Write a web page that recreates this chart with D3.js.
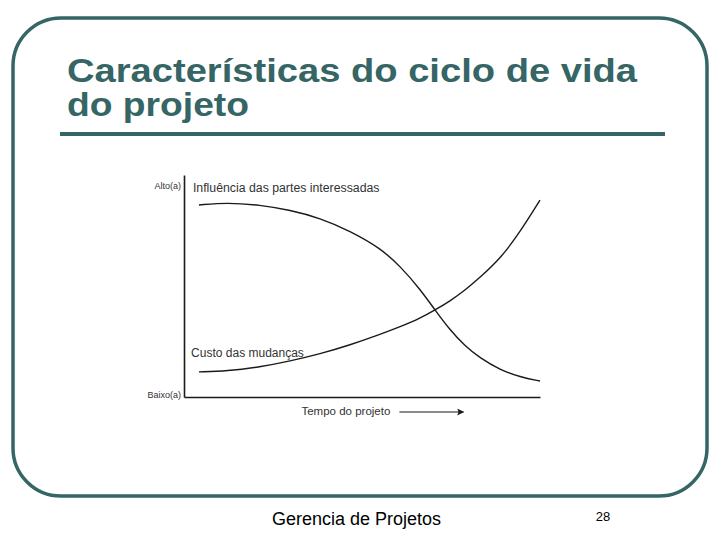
<!DOCTYPE html>
<html>
<head>
<meta charset="utf-8">
<script src="https://cdn.jsdelivr.net/npm/d3@7"></script>
<style>
    html, body { margin: 0; padding: 0; background: #fff; }
    svg { display: block; }
</style>
</head>
<body>
<div id="slide"></div>
<script>
// slide texts
const titleLines = ["Características do ciclo de vida", "do projeto"];
const footerText = "Gerencia de Projetos";
const pageNumber = "28";

// chart texts
const yTickLabels = ["Baixo(a)", "Alto(a)"];
const xAxisLabel = "Tempo do projeto";
const influenceLabel = "Influência das partes interessadas";
const costLabel = "Custo das mudanças";

// curves (tempo 0..100, nível 0..100)
const tempo      = [4.2, 12.1, 21.3, 29.8, 38.2, 46.6, 55.1, 60.7, 66.3, 70.5, 74.7, 78.9, 83.1, 88.8, 94.4, 100];
const influencia = [86.5, 87.6, 86.5, 84.2, 80.6, 74.8, 67.1, 59.0, 48.6, 39.2, 30.2, 23.0, 17.6, 12.2, 9.0, 7.2];
const custo      = [11.3, 11.7, 13.5, 16.2, 19.4, 23.4, 28.2, 31.6, 35.4, 39.2, 43.2, 48.0, 53.8, 62.2, 74.3, 88.7];

const width = 720;
const height = 540;
const teal = "#356565";
const ink = "#1a1a1a";
const labelFont = "'Liberation Sans', Arial, sans-serif";

const svg = d3.select("#slide")
    .append("svg")
    .attr("width", width)
    .attr("height", height)
    .attr("viewBox", `0 0 ${width} ${height}`);

// slide frame
svg.append("rect")
    .attr("x", 13)
    .attr("y", 18)
    .attr("width", 694)
    .attr("height", 478)
    .attr("rx", 48)
    .attr("fill", "none")
    .attr("stroke", teal)
    .attr("stroke-width", 3.5);

// title
svg.selectAll(".title")
    .data(titleLines)
    .enter()
    .append("text")
    .attr("class", "title")
    .attr("x", 67)
    .attr("y", (d, i) => 82 + i * 34)
    .attr("font-family", labelFont)
    .attr("font-weight", "bold")
    .attr("font-size", "33px")
    .attr("fill", teal)
    .attr("textLength", (d, i) => i === 0 ? 570 : 182)
    .attr("lengthAdjust", "spacingAndGlyphs")
    .text(d => d);

svg.append("line")
    .attr("x1", 60)
    .attr("x2", 665)
    .attr("y1", 134)
    .attr("y2", 134)
    .attr("stroke", teal)
    .attr("stroke-width", 4);

// chart
const x = d3.scaleLinear().domain([0, 100]).range([184, 540]);
const y = d3.scaleLinear().domain([0, 100]).range([397, 175]);

const chart = svg.append("g").attr("class", "chart");

const yAxis = chart.append("g")
    .attr("transform", `translate(${x(0)},0)`)
    .call(d3.axisLeft(y).tickValues([1, 95]).tickSize(0).tickSizeOuter(0).tickPadding(3)
        .tickFormat((d, i) => yTickLabels[i]));

const xAxis = chart.append("g")
    .attr("transform", `translate(0,${y(0)})`)
    .call(d3.axisBottom(x).tickValues([]).tickSizeOuter(0));

[yAxis, xAxis].forEach(a => {
    a.select(".domain").attr("stroke", ink).attr("stroke-width", 1.6);
    a.selectAll("text")
        .attr("font-family", labelFont)
        .attr("font-size", "9px")
        .attr("fill", "#333");
});

const line = d3.line()
    .x(d => x(d[0]))
    .y(d => y(d[1]))
    .curve(d3.curveBasis);

const series = [
    d3.zip(tempo, influencia),
    d3.zip(tempo, custo)
];

chart.selectAll(".curve")
    .data(series)
    .enter()
    .append("path")
    .attr("class", "curve")
    .attr("d", line)
    .attr("fill", "none")
    .attr("stroke", ink)
    .attr("stroke-width", 1.4);

chart.append("text")
    .attr("x", x(2.5))
    .attr("y", y(92.5))
    .attr("font-family", labelFont)
    .attr("font-size", "12.3px")
    .attr("fill", "#333")
    .text(influenceLabel);

chart.append("text")
    .attr("x", x(2))
    .attr("y", y(18))
    .attr("font-family", labelFont)
    .attr("font-size", "12px")
    .attr("fill", "#333")
    .text(costLabel);

chart.append("text")
    .attr("x", x(33))
    .attr("y", y(0) + 18)
    .attr("font-family", labelFont)
    .attr("font-size", "11.5px")
    .attr("fill", "#333")
    .text(xAxisLabel);

// time arrow
svg.append("defs")
    .append("marker")
    .attr("id", "arrow")
    .attr("viewBox", "0 0 10 10")
    .attr("refX", 9)
    .attr("refY", 5)
    .attr("markerWidth", 10)
    .attr("markerHeight", 7)
    .attr("markerUnits", "userSpaceOnUse")
    .attr("orient", "auto")
    .append("path")
    .attr("d", "M0,0 L10,5 L0,10 L2,5 Z")
    .attr("fill", ink);

chart.append("line")
    .attr("x1", x(60.5))
    .attr("x2", x(78.5))
    .attr("y1", y(0) + 15)
    .attr("y2", y(0) + 15)
    .attr("stroke", ink)
    .attr("stroke-width", 1.2)
    .attr("marker-end", "url(#arrow)");

// footer
svg.append("text")
    .attr("x", 272)
    .attr("y", 525)
    .attr("font-family", labelFont)
    .attr("font-size", "18px")
    .attr("fill", "#000")
    .text(footerText);

svg.append("text")
    .attr("x", 603)
    .attr("y", 521)
    .attr("text-anchor", "middle")
    .attr("font-family", labelFont)
    .attr("font-size", "13px")
    .attr("fill", "#000")
    .text(pageNumber);
</script>
</body>
</html>
